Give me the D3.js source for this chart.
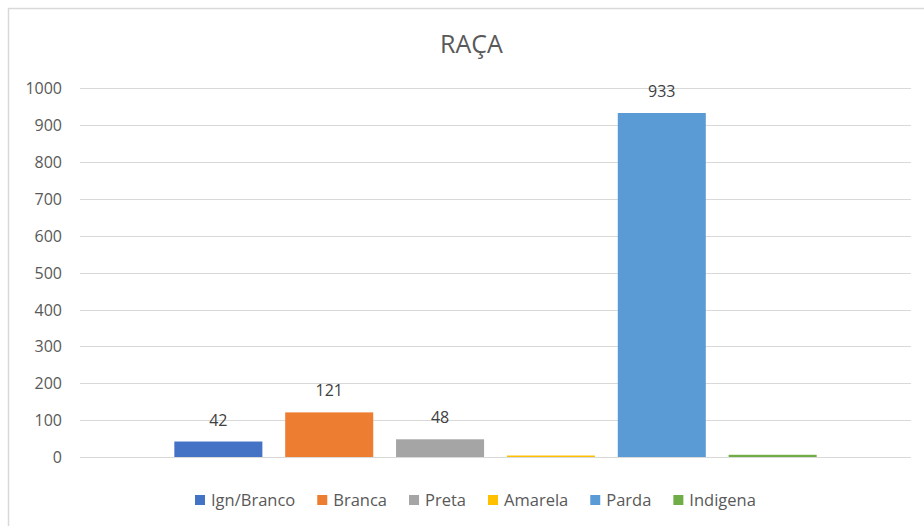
<!DOCTYPE html>
<html>
<head>
<meta charset="utf-8">
<script src="https://cdn.jsdelivr.net/npm/d3@7/dist/d3.min.js"></script>
<style>
  html, body { margin: 0; padding: 0; background: #fff; }
  svg { display: block; }
  text { font-family: "Open Sans", Lato, sans-serif; }
</style>
</head>
<body>
<svg id="chart" width="924" height="526"></svg>
<script>
const title = "RAÇA";
const categories = ["Ign/Branco", "Branca", "Preta", "Amarela", "Parda", "Indigena"];
const values = [42, 121, 48, 4, 933, 6];
const labels = ["42", "121", "48", null, "933", null];
const colors = ["#4472C4", "#ED7D31", "#A5A5A5", "#FFC000", "#5B9BD5", "#70AD47"];
const yTicks = [0, 100, 200, 300, 400, 500, 600, 700, 800, 900, 1000];

const FONT = "'Open Sans', Lato, sans-serif";
const svg = d3.select("#chart");
const W = 924, H = 526;

// chart border
svg.append("rect")
  .attr("x", 8.5).attr("y", 8.5)
  .attr("width", W + 10).attr("height", H + 10)
  .attr("fill", "#fff")
  .attr("stroke", "#d9d9d9").attr("stroke-width", 1.5);

// title
svg.append("text")
  .attr("x", 471.5).attr("y", 53)
  .attr("text-anchor", "middle")
  .attr("font-size", 25)
  .attr("fill", "#595959")
  .text(title);

const plot = { left: 80, right: 911, top: 88.3, bottom: 457 };

const x = d3.scaleBand()
  .domain(categories)
  .range([plot.left, plot.right])
  .paddingInner(0.206)
  .paddingOuter(0.851);

const y = d3.scaleLinear()
  .domain([0, 1000])
  .range([plot.bottom, plot.top]);

// gridlines
svg.append("g")
  .selectAll("line")
  .data(yTicks)
  .join("line")
  .attr("x1", plot.left).attr("x2", plot.right)
  .attr("y1", d => Math.round(y(d)) + 0.5)
  .attr("y2", d => Math.round(y(d)) + 0.5)
  .attr("stroke", "#d9d9d9")
  .attr("stroke-width", 1);

// y axis labels
const yAxis = d3.axisLeft(y).tickValues(yTicks).tickFormat(d3.format("d")).tickSize(0).tickPadding(0);
const gy = svg.append("g")
  .attr("transform", `translate(62,0)`)
  .call(yAxis);
gy.select(".domain").remove();
gy.selectAll("text")
  .attr("font-family", FONT)
  .attr("font-size", 16)
  .attr("fill", "#595959")
  .attr("dy", "0.35em");

// bars
svg.append("g")
  .selectAll("rect")
  .data(categories)
  .join("rect")
  .attr("x", d => x(d))
  .attr("width", x.bandwidth())
  .attr("y", (d, i) => y(values[i]))
  .attr("height", (d, i) => y(0) - y(values[i]))
  .attr("fill", (d, i) => colors[i]);

// data labels
svg.append("g")
  .selectAll("text")
  .data(categories.filter((d, i) => labels[i] !== null))
  .join("text")
  .attr("x", d => x(d) + x.bandwidth() / 2)
  .attr("y", d => y(values[categories.indexOf(d)]) - 16)
  .attr("text-anchor", "middle")
  .attr("font-size", 16)
  .attr("fill", "#404040")
  .text(d => labels[categories.indexOf(d)]);

// legend
const legend = svg.append("g");
let lx = 195;
const ly = 500;
categories.forEach((c, i) => {
  const g = legend.append("g");
  g.append("rect")
    .attr("x", lx).attr("y", ly - 5)
    .attr("width", 10).attr("height", 10)
    .attr("fill", colors[i]);
  const t = g.append("text")
    .attr("x", lx + 16).attr("y", ly)
    .attr("dy", "0.35em")
    .attr("font-size", 16.5)
    .attr("fill", "#595959")
    .text(c);
  const w = t.node().getComputedTextLength();
  lx = lx + 16 + w + 22;
});
</script>
</body>
</html>
